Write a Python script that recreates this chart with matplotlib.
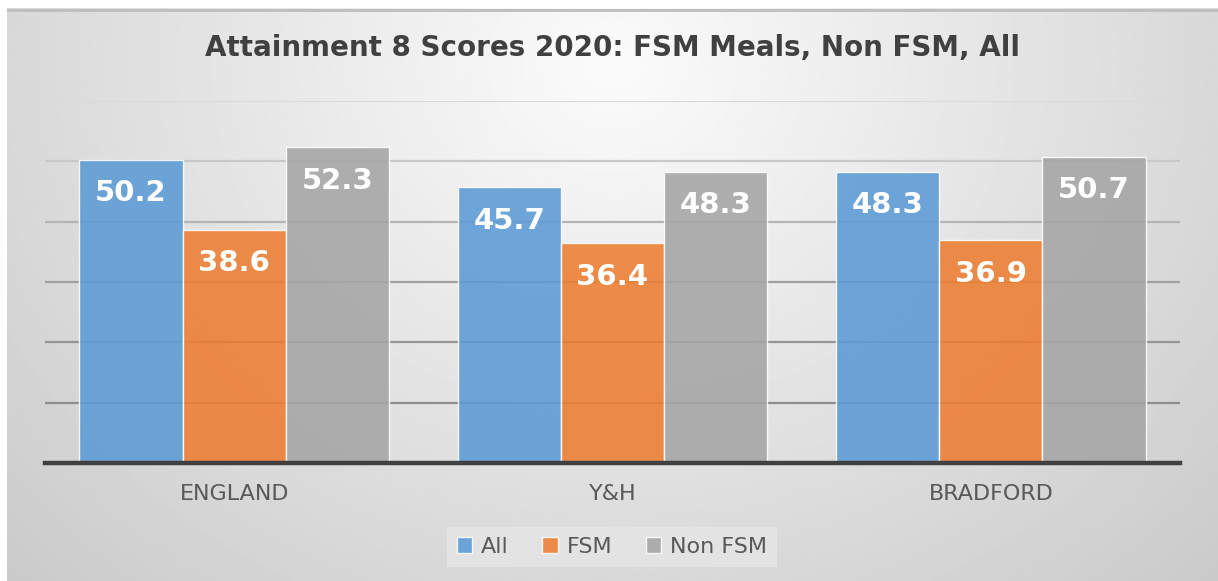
import numpy as np
import matplotlib
matplotlib.use('Agg')
import matplotlib.pyplot as plt

## Data
regions = ['ENGLAND', 'Y&H', 'BRADFORD']
series = ['All', 'FSM', 'Non FSM']
all_scores = [50.2, 45.7, 48.3]
fsm_scores = [38.6, 36.4, 36.9]
non_fsm_scores = [52.3, 48.3, 50.7]
colors = ['#5B9BD5', '#ED7D31', '#A5A5A5']

W, H = 1218, 581
fig = plt.figure(figsize=(W / 100, H / 100), dpi=100, facecolor='white')

## Gradient background panel
bg = fig.add_axes([7 / W, 0, 1 - 7 / W, 1 - 8 / H], zorder=-5)
yy, xx = np.mgrid[0:1:300j, 0:1:600j]
r = np.sqrt(((xx - 0.5) / 0.55) ** 2 + ((yy - 0.1) / 1.0) ** 2)
shade = np.clip(0.985 - 0.15 * r, 0, 1)
bg.imshow(shade, cmap='gray', vmin=0, vmax=1, aspect='auto', extent=[0, 1, 1, 0])
bg.axhline(0.003, color='#bdbdbd', lw=2)
bg.axis('off')

ax = fig.add_axes([45 / W, (H - 463) / H, (1180 - 45) / W, (463 - 101) / H])
ax.patch.set_alpha(0)

x = np.arange(len(regions))
width = 0.273
for i, (vals, name) in enumerate(zip([all_scores, fsm_scores, non_fsm_scores], series)):
    bars = ax.bar(x + (i - 1) * width, vals, width, color=colors[i], alpha=0.88,
                  edgecolor='white', linewidth=1.0, label=name, zorder=3)
    for b, v in zip(bars, vals):
        ax.annotate('{:.1f}'.format(v), (b.get_x() + b.get_width() / 2, v),
                    xytext=(0, -24), textcoords='offset points', ha='center', va='center',
                    color='white', fontsize=21, fontweight='bold', zorder=5)

ax.set_xlim(-0.5, 2.5)
ax.set_ylim(0, 60)
## gridlines, lighter towards the top like the reference
ticks = np.arange(10, 61, 10)
for t, c in zip(ticks, ['#8e8e8e', '#959595', '#a0a0a0', '#b4b4b4', '#c8c8c8', '#dadada']):
    ax.axhline(t, color=c, lw=1.6, zorder=1)
ax.axhline(0, color='#404040', lw=3.2, zorder=4, clip_on=False)

for s in ax.spines.values():
    s.set_visible(False)
ax.set_yticks([])
ax.set_xticks(x)
ax.set_xticklabels(regions, fontsize=16, color='#595959')
ax.tick_params(axis='x', length=0, pad=15)

fig.text(612 / W, 1 - 48 / H, 'Attainment 8 Scores 2020: FSM Meals, Non FSM, All',
         ha='center', va='center', fontsize=20, fontweight='bold', color='#404040')

leg = fig.legend(loc='center', bbox_to_anchor=(612 / W, 1 - 547 / H), ncol=3, fontsize=16,
                 frameon=True, facecolor='#e3e3e3', edgecolor='none', framealpha=1,
                 fancybox=False, handlelength=0.7, handleheight=0.7, handletextpad=0.4,
                 columnspacing=1.5, borderpad=0.45)
for t in leg.get_texts():
    t.set_color('#595959')

plt.savefig('out.png', dpi=100, facecolor=fig.get_facecolor())
